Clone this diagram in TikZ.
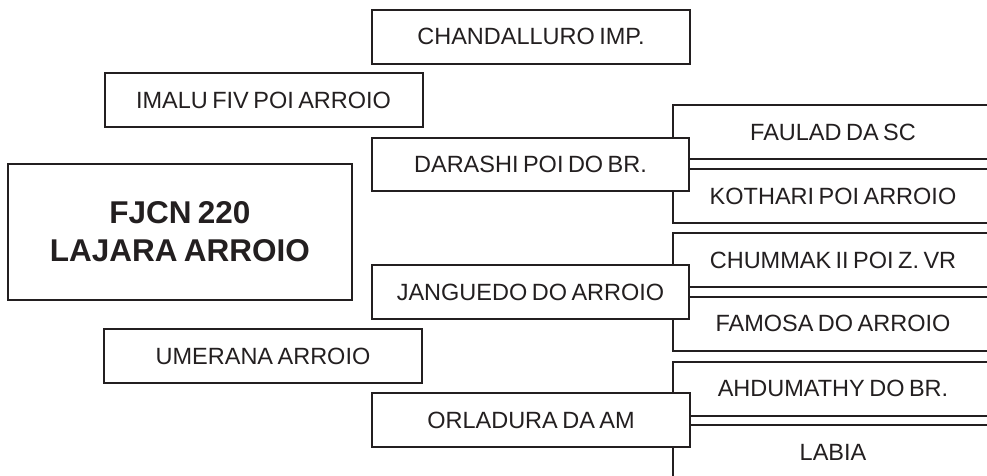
\documentclass[tikz,border=0pt]{standalone}
\usepackage{fontspec}
\setmainfont{Liberation Sans}
\usepackage{xcolor}
\definecolor{inkdark}{RGB}{35, 31, 32}
\newcommand{\boxfont}{\fontsize{23.5}{27}\selectfont\spaceskip=0.19em\relax}
\newcommand{\titlefont}{\fontsize{31.5}{38}\selectfont\bfseries\spaceskip=0.2em\relax}

\begin{document}
\begin{tikzpicture}[x=1pt, y=-1pt,
    box/.style={draw=inkdark, line width=2pt, fill=white, text=inkdark,
                inner sep=0pt, outer sep=0pt, font=\boxfont, align=center},
    branch/.style={box, minimum width=318pt, minimum height=54pt},
    leaf/.style={box, minimum width=320pt, minimum height=54pt}]
  \useasboundingbox (0,0) rectangle (987,475);
  \clip (0,0) rectangle (987,475);
  % Root
  \node[box, font=\titlefont, minimum width=344pt, minimum height=136pt]
    (root) at (180,231.5) {FJCN 220\\LAJARA ARROIO};
  % Single branches
  \node[branch] (chand) at (531,36.5) {CHANDALLURO IMP.};
  \node[branch] (imalu) at (263.5,100) {IMALU FIV POI ARROIO};
  \node[branch] (umer) at (263,356) {UMERANA ARROIO};
  % Leaf pairs (drawn first, branch boxes lie on top)
  \foreach \name/\ypos/\label in {faulad/132/FAULAD DA SC, kothari/196/KOTHARI POI ARROIO,
      chummak/260/CHUMMAK II POI Z. VR, famosa/323.5/FAMOSA DO ARROIO,
      ahdu/388.5/AHDUMATHY DO BR., labia/452/LABIA} {
    \node[leaf] (\name) at (833,\ypos) {\label};
  }
  % Branches with two leaves
  \node[branch, minimum width=317pt, minimum height=53pt] (darashi) at (530.5,164.5) {DARASHI POI DO BR.};
  \node[branch, minimum width=317pt] (jang) at (530.5,292) {JANGUEDO DO ARROIO};
  \node[branch] (orla) at (531,420) {ORLADURA DA AM};
\end{tikzpicture}
\end{document}
